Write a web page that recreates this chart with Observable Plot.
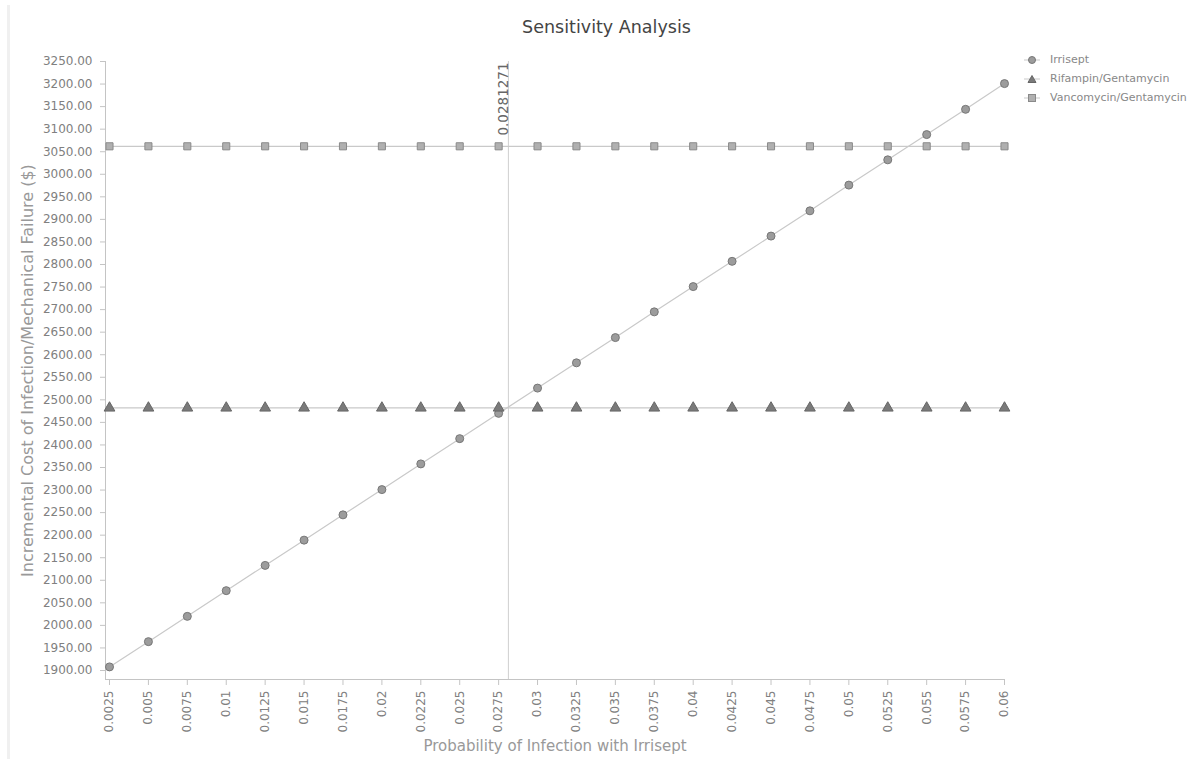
<!DOCTYPE html>
<html>
<head>
<meta charset="utf-8">
<script src="https://cdn.jsdelivr.net/npm/d3@7"></script>
<script src="https://cdn.jsdelivr.net/npm/@observablehq/plot@0.6"></script>
<style>
  body { margin: 0; background: #fff; font-family: "DejaVu Sans", sans-serif; }
  #wrap { position: relative; width: 1197px; height: 759px; overflow: hidden; }
  #title { height: 45px; line-height: 54px; text-align: center; padding-left: 16px; box-sizing: border-box;
           font-size: 17.5px; color: #444; }
  #edge { position: absolute; left: 7px; top: 5px; bottom: 0; width: 3px; background: #f0f0f0; }
  #legend { position: absolute; left: 1024px; top: 50px; font-size: 11px; color: #888; white-space: nowrap; }
  #legend .row { height: 19px; display: flex; align-items: center; }
  #legend svg { margin-right: 10px; }
</style>
</head>
<body>
<div id="wrap">
  <div id="edge"></div>
  <div id="title">Sensitivity Analysis</div>
  <div id="chart"></div>
  <div id="legend"></div>
</div>
<script>
// ---- data ----
const probabilities = [0.0025, 0.005, 0.0075, 0.01, 0.0125, 0.015, 0.0175, 0.02, 0.0225, 0.025, 0.0275, 0.03,
  0.0325, 0.035, 0.0375, 0.04, 0.0425, 0.045, 0.0475, 0.05, 0.0525, 0.055, 0.0575, 0.06];
const xTickLabels = ["0.0025", "0.005", "0.0075", "0.01", "0.0125", "0.015", "0.0175", "0.02", "0.0225", "0.025",
  "0.0275", "0.03", "0.0325", "0.035", "0.0375", "0.04", "0.0425", "0.045", "0.0475", "0.05", "0.0525", "0.055",
  "0.0575", "0.06"];
const irrisept = [1908, 1964, 2020, 2077, 2133, 2189, 2245, 2301, 2358, 2414, 2470, 2526,
  2582, 2638, 2695, 2751, 2807, 2863, 2919, 2976, 3032, 3088, 3144, 3201];
const rifampin = [2482, 2482, 2482, 2482, 2482, 2482, 2482, 2482, 2482, 2482, 2482, 2482,
  2482, 2482, 2482, 2482, 2482, 2482, 2482, 2482, 2482, 2482, 2482, 2482];
const vancomycin = [3062, 3062, 3062, 3062, 3062, 3062, 3062, 3062, 3062, 3062, 3062, 3062,
  3062, 3062, 3062, 3062, 3062, 3062, 3062, 3062, 3062, 3062, 3062, 3062];
const seriesNames = ["Irrisept", "Rifampin/Gentamycin", "Vancomycin/Gentamycin"];
const threshold = 0.0281271;
const thresholdLabel = "0.0281271";
const yTicks = [1900, 1950, 2000, 2050, 2100, 2150, 2200, 2250, 2300, 2350, 2400, 2450, 2500, 2550, 2600,
  2650, 2700, 2750, 2800, 2850, 2900, 2950, 3000, 3050, 3100, 3150, 3200, 3250];
const xLabel = "Probability of Infection with Irrisept";
const yLabel = "Incremental Cost of Infection/Mechanical Failure ($)";

// ---- table ----
const seriesValues = [irrisept, rifampin, vancomycin];
const symbols = ["circle", "triangle", "square"];
const fills = ["#9c9c9c", "#7a7a7a", "#b0b0b0"];
const strokes = ["#777", "#666", "#8a8a8a"];
const rows = [];
seriesNames.forEach((s, k) => probabilities.forEach((p, i) => rows.push({series: s, p, v: seriesValues[k][i], k})));

const chart = Plot.plot({
  width: 1197,
  height: 714,
  marginTop: 16,
  marginBottom: 80,
  marginLeft: 105,
  marginRight: 193,
  insetLeft: 4,
  insetBottom: 9,
  style: {fontFamily: "DejaVu Sans, sans-serif", background: "white"},
  x: {type: "linear", domain: [0.0025, 0.06]},
  y: {domain: [1900, 3250]},
  marks: [
    Plot.frame({anchor: "left", stroke: "#c4c4c4", strokeOpacity: 1}),
    Plot.frame({anchor: "bottom", stroke: "#c4c4c4", strokeOpacity: 1}),
    Plot.axisY({ticks: yTicks, tickFormat: d3.format(".2f"), tickSize: 5, tickPadding: 8,
      stroke: "#c4c4c4", color: "#808080", fontSize: 12, label: null}),
    Plot.axisX({ticks: probabilities, tickFormat: (d, i) => xTickLabels[i], tickRotate: -90,
      tickSize: 6, tickPadding: 5, stroke: "#c4c4c4", color: "#808080", fontSize: 12, label: null}),
    Plot.ruleX([threshold], {stroke: "#cfcfcf", strokeWidth: 1}),
    Plot.text([thresholdLabel], {x: () => threshold, frameAnchor: "top", rotate: -90, textAnchor: "end",
      dx: -10, dy: 1, fill: "#666", fontSize: 13.5}),
    Plot.line(rows, {x: "p", y: "v", z: "series", stroke: "#c9c9c9", strokeWidth: 1.2}),
    Plot.dot(rows, {x: "p", y: "v", symbol: d => symbols[d.k], fill: d => fills[d.k], stroke: d => strokes[d.k],
      strokeWidth: 1, r: 4}),
    Plot.text([yLabel], {frameAnchor: "left", rotate: -90, textAnchor: "middle", dx: -78, fill: "#999", fontSize: 16}),
    Plot.text([xLabel], {frameAnchor: "bottom", textAnchor: "middle", dy: 71, fill: "#999", fontSize: 15})
  ]
});
document.getElementById("chart").appendChild(chart);

// ---- legend ----
const legend = document.getElementById("legend");
const shapes = [
  (f, s) => `<circle cx="8" cy="5" r="3.5" fill="${f}" stroke="${s}"/>`,
  (f, s) => `<path d="M8,1.5 L12,8.5 L4,8.5 Z" fill="${f}" stroke="${s}"/>`,
  (f, s) => `<rect x="4.5" y="1.5" width="7" height="7" fill="${f}" stroke="${s}"/>`
];
seriesNames.forEach((name, k) => {
  const row = document.createElement("div");
  row.className = "row";
  row.innerHTML = `<svg width="16" height="10"><line x1="0" x2="16" y1="5" y2="5" stroke="#c9c9c9"/>${shapes[k](fills[k], strokes[k])}</svg><span>${name}</span>`;
  legend.appendChild(row);
});
</script>
</body>
</html>
